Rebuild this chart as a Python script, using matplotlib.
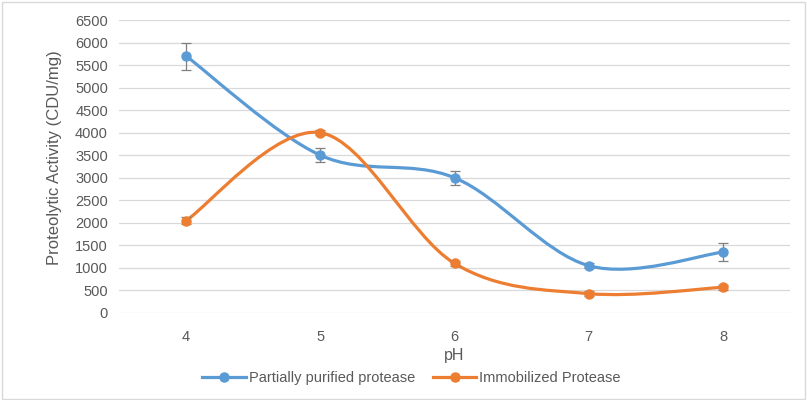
import numpy as np
import matplotlib
matplotlib.use("Agg")
import matplotlib.pyplot as plt
from matplotlib.path import Path
from matplotlib.patches import PathPatch, Rectangle
from matplotlib.lines import Line2D

# pH categories
ph_labels = ["4", "5", "6", "7", "8"]

# Partially purified protease
partial = [5700, 3500, 3000, 1050, 1350]
partial_err = [300, 150, 150, 50, 200]

# Immobilized protease
immob = [2050, 4000, 1100, 430, 570]
immob_err = [80, 50, 50, 60, 50]

blue = "#5B9BD5"
orange = "#ED7D31"
grey_txt = "#595959"

plt.rcParams['font.family'] = ['Liberation Sans', 'DejaVu Sans']


def smooth_path(xs, ys):
    # excel-like smoothed line: catmull-rom turned into cubic bezier segments
    xs = np.asarray(xs, float)
    ys = np.asarray(ys, float)
    n = len(xs)
    verts = [(xs[0], ys[0])]
    codes = [Path.MOVETO]
    for i in range(n - 1):
        i0 = max(i - 1, 0)
        i3 = min(i + 2, n - 1)
        c1 = (xs[i] + (xs[i + 1] - xs[i0]) / 6, ys[i] + (ys[i + 1] - ys[i0]) / 6)
        c2 = (xs[i + 1] - (xs[i3] - xs[i]) / 6, ys[i + 1] - (ys[i3] - ys[i]) / 6)
        verts += [c1, c2, (xs[i + 1], ys[i + 1])]
        codes += [Path.CURVE4] * 3
    return Path(verts, codes)


fig = plt.figure(figsize=(8.07, 4.0), dpi=100)
ax = fig.add_axes([0.1475, 0.2175, 0.8315, 0.7325])

x = np.arange(len(ph_labels))

for vals, errs, col in [(partial, partial_err, blue), (immob, immob_err, orange)]:
    ax.add_patch(PathPatch(smooth_path(x, vals), facecolor="none", edgecolor=col,
                           lw=2.3, capstyle="round", zorder=3))
    ax.errorbar(x, vals, yerr=errs, fmt="none", ecolor="#7f7f7f", elinewidth=0.9,
                capsize=3.5, capthick=0.9, zorder=4)
    ax.plot(x, vals, "o", color=col, ms=6.5, zorder=5)

ax.set_xlim(-0.5, len(ph_labels) - 0.5)
ax.set_ylim(0, 6500)
ax.set_yticks(np.arange(0, 6501, 500))
ax.set_xticks(x)
ax.set_xticklabels(ph_labels)
ax.grid(axis="y", color="#d9d9d9", lw=0.9)
ax.set_axisbelow(True)
for s in ax.spines.values():
    s.set_visible(False)
ax.tick_params(length=0, colors=grey_txt, labelsize=10.5)
ax.tick_params(axis="x", pad=12)
ax.tick_params(axis="y", pad=8)

ax.set_xlabel("pH", color=grey_txt, fontsize=11.5, labelpad=3)
ax.set_ylabel("Proteolytic Activity (CDU/mg)", color=grey_txt, fontsize=12)
ax.yaxis.set_label_coords(-0.085, 0.53)

handles = [Line2D([], [], color=blue, lw=2.3, marker="o", ms=6.5),
           Line2D([], [], color=orange, lw=2.3, marker="o", ms=6.5)]
leg = fig.legend(handles, ["Partially purified protease", "Immobilized Protease"],
                 loc="center", bbox_to_anchor=(0.51, 0.055), ncol=2, frameon=False,
                 fontsize=10.5, handlelength=3, handletextpad=0.2, columnspacing=1.2)
for t in leg.get_texts():
    t.set_color(grey_txt)

fig.patches.append(Rectangle((0.003, 0.003), 0.994, 0.992, transform=fig.transFigure,
                             fill=False, edgecolor="#d9d9d9", lw=1))

fig.savefig("out.png", dpi=100)
